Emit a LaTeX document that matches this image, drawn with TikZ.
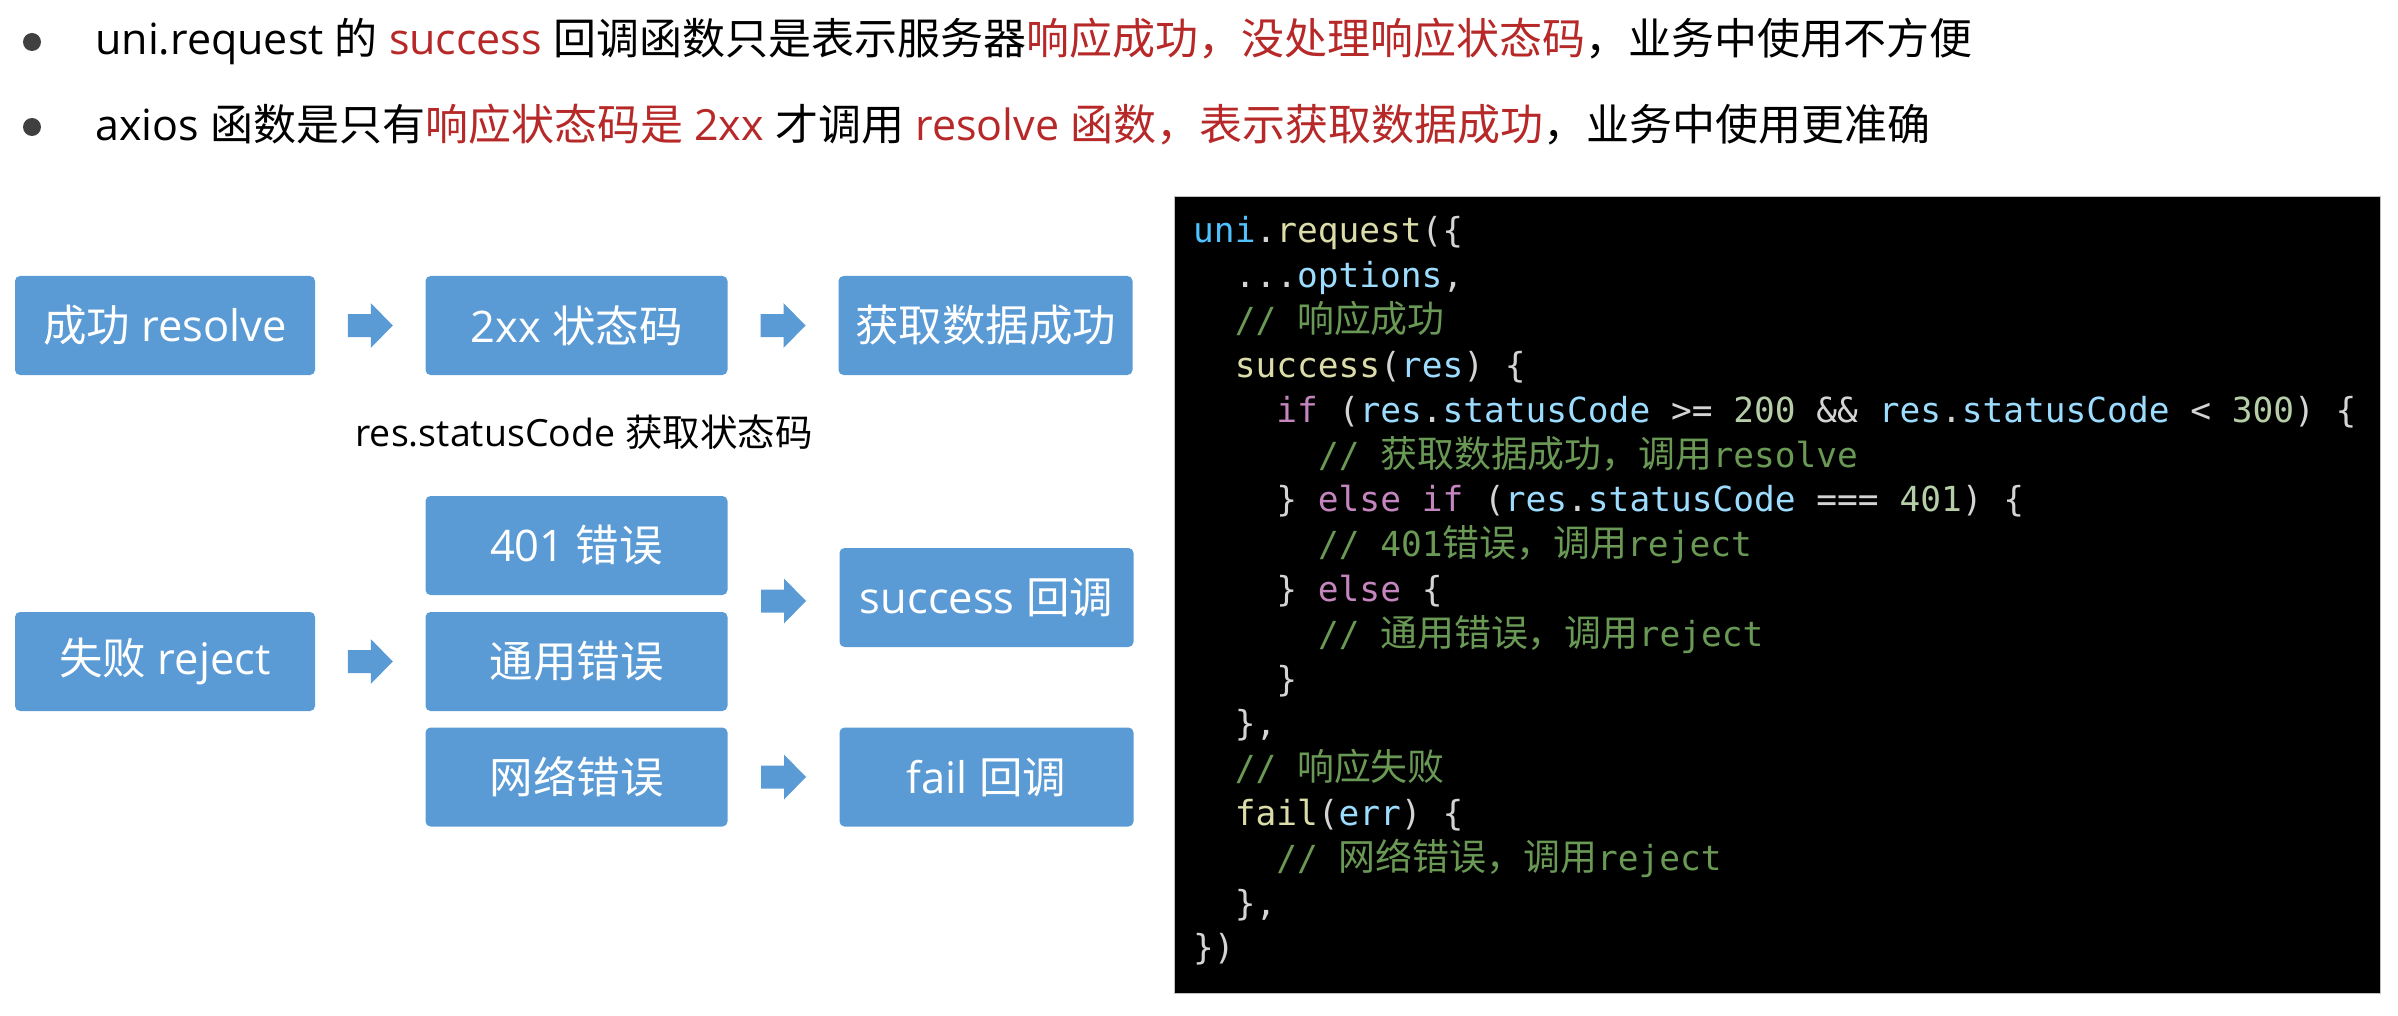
\documentclass[tikz,border=0pt]{standalone}
\usepackage{fontspec}
\setmainfont{Open Sans}
\newfontfamily\cjk{Noto Sans CJK SC}
\newfontfamily\codefont{DejaVu Sans Mono}
\newfontfamily\codecjk[Scale=1.07]{Noto Sans CJK SC}
\usetikzlibrary{calc}
\definecolor{boxblue}{HTML}{5B9BD5}
\definecolor{hired}{RGB}{183,40,40}
\definecolor{bulletgray}{HTML}{404040}
\definecolor{cConst}{HTML}{4FC1FF}
\definecolor{cYel}{HTML}{DCDCAA}
\definecolor{cVar}{HTML}{9CDCFE}
\definecolor{cPunc}{HTML}{D4D4D4}
\definecolor{cKey}{HTML}{C586C0}
\definecolor{cNum}{HTML}{B5CEA8}
\definecolor{cCom}{HTML}{6A9955}
\newcommand\C[1]{{\cjk #1}}
\newcommand\RD[1]{\textcolor{hired}{#1}}
\newcommand\CC[1]{{\codecjk #1}}
\newcommand\com[1]{\textcolor{cCom}{#1}}
\newcommand\kw[1]{\textcolor{cKey}{#1}}
\newcommand\vr[1]{\textcolor{cVar}{#1}}
\newcommand\nm[1]{\textcolor{cNum}{#1}}
\newcommand\fn[1]{\textcolor{cYel}{#1}}
\newcommand\blockarrow[1]{\fill[boxblue] ($(#1)+(-22.5,-11.5)$) -- ++(23,0) -- ++(0,-11) -- ++(22,22.5) -- ++(-22,22.5) -- ++(0,-11) -- ++(-23,0) -- cycle;}
\tikzset{
  bluebox/.style={fill=boxblue, rounded corners=5pt, text=white, inner sep=0,
    minimum height=99pt, font=\fontsize{43.5}{50}\selectfont},
  leftcol/.style={bluebox, minimum width=300pt},
  midcol/.style={bluebox, minimum width=302pt},
  rightcol/.style={bluebox, minimum width=294pt},
  bullettext/.style={anchor=base west, inner sep=0, font=\fontsize{43}{50}\selectfont, text=black},
  bulletdot/.style={circle, fill=bulletgray, minimum size=18pt, inner sep=0},
  codeline/.style={anchor=base west, inner sep=0, font=\codefont\fontsize{34.5}{44.8}\selectfont, text=cPunc},
}
\begin{document}
\begin{tikzpicture}[x=1pt,y=-1pt]
\useasboundingbox (0,0) rectangle (2398,1016);
% bullets
\node[bulletdot] (b1) at (32,42) {};
\node[bulletdot] (b2) at (32,127) {};
\node[bullettext] (t1) at (95,55) {uni.request \C{的} \RD{success} \C{回调函数只是表示服务器}\RD{\C{响应成功，没处理响应状态码}}\C{，业务中使用不方便}};
\node[bullettext] (t2) at (95,141) {axios \C{函数是只有}\RD{\C{响应状态码是} 2xx} \C{才调用} \RD{resolve \C{函数，表示获取数据成功}}\C{，业务中使用更准确}};
% flow boxes
\node[leftcol] (ok1) at (165,325.5) {\C{成功} resolve};
\node[midcol] (ok2) at (576.5,325.5) {2xx \C{状态码}};
\node[rightcol] (ok3) at (985.5,325.5) {\C{获取数据成功}};
\node[font=\fontsize{37.5}{44}\selectfont, inner sep=0] (lbl) at (584,432) {res.statusCode \C{获取状态码}};
\node[leftcol] (fail) at (165,661.5) {\C{失败} reject};
\node[midcol] (e401) at (576.5,545.5) {401 \C{错误}};
\node[midcol] (egen) at (576.5,661.5) {\C{通用错误}};
\node[midcol] (enet) at (576.5,777) {\C{网络错误}};
\node[rightcol] (scb) at (986.5,597.5) {success \C{回调}};
\node[rightcol] (fcb) at (986.5,777) {fail \C{回调}};
% arrows
\coordinate (a1) at ($(ok1.east)!0.5!(ok2.west)$);
\coordinate (a2) at ($(ok2.east)!0.5!(ok3.west)$);
\coordinate (a3) at ($(fail.east)!0.5!(egen.west)$);
\coordinate (a4) at ($(e401.east|-0,601)!0.5!(scb.west|-0,601)$);
\coordinate (a5) at ($(enet.east)!0.5!(fcb.west)$);
\blockarrow{a1}
\blockarrow{a2}
\blockarrow{a3}
\blockarrow{a4}
\blockarrow{a5}
% code panel
\node[fill=black, draw=gray!50, line width=1pt, minimum width=1206pt, minimum height=796pt, inner sep=0] (code) at (1777,595) {};
\node[codeline] (c0) at (1193,243) {\textcolor{cConst}{uni}.\fn{request}(\{};
\node[codeline] (c1) at (1234.6,287.8) {...\vr{options},};
\node[codeline] (c2) at (1234.6,332.6) {\com{// \CC{响应成功}}};
\node[codeline] (c3) at (1234.6,377.4) {\fn{success}(\vr{res}) \{};
\node[codeline] (c4) at (1276.2,422.2) {\kw{if} (\vr{res}.\vr{statusCode} >= \nm{200} \&\& \vr{res}.\vr{statusCode} < \nm{300}) \{};
\node[codeline] (c5) at (1317.8,467) {\com{// \CC{获取数据成功，调用}resolve}};
\node[codeline] (c6) at (1276.2,511.8) {\} \kw{else if} (\vr{res}.\vr{statusCode} === \nm{401}) \{};
\node[codeline] (c7) at (1317.8,556.6) {\com{// 401\CC{错误，调用}reject}};
\node[codeline] (c8) at (1276.2,601.4) {\} \kw{else} \{};
\node[codeline] (c9) at (1317.8,646.2) {\com{// \CC{通用错误，调用}reject}};
\node[codeline] (c10) at (1276.2,691) {\}};
\node[codeline] (c11) at (1234.6,735.8) {\},};
\node[codeline] (c12) at (1234.6,780.6) {\com{// \CC{响应失败}}};
\node[codeline] (c13) at (1234.6,825.4) {\fn{fail}(\vr{err}) \{};
\node[codeline] (c14) at (1276.2,870.2) {\com{// \CC{网络错误，调用}reject}};
\node[codeline] (c15) at (1234.6,915) {\},};
\node[codeline] (c16) at (1193,959.8) {\})};
\end{tikzpicture}
\end{document}
